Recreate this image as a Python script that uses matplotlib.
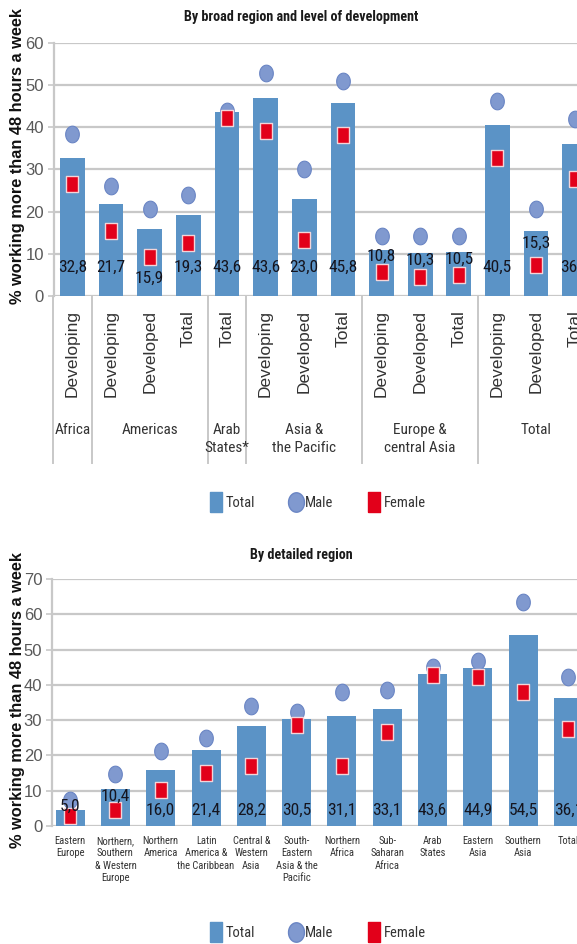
import numpy as np
import matplotlib
matplotlib.use('Agg')
import matplotlib.pyplot as plt
import matplotlib.transforms as mtransforms
from matplotlib.lines import Line2D
from matplotlib import font_manager as fm

# ---- data: broad region and level of development ----
groups = ['Africa', 'Americas', 'Arab\nStates*', 'Asia &\nthe Pacific',
          'Europe &\ncentral Asia', 'Total']
group_sizes = [1, 3, 1, 3, 3, 3]
levels = ['Developing', 'Developing', 'Developed', 'Total', 'Total',
          'Developing', 'Developed', 'Total', 'Developing', 'Developed',
          'Total', 'Developing', 'Developed', 'Total']
total_top = [32.8, 21.7, 15.9, 19.3, 43.6, 47.0, 23.0, 45.8, 10.8, 10.3,
             10.5, 40.5, 15.3, 36.1]
labels_top = ['32,8', '21,7', '15,9', '19,3', '43,6', '43,6', '23,0', '45,8',
              '10,8', '10,3', '10,5', '40,5', '15,3', '36,1']
male_top = [38.4, 26.1, 20.7, 23.9, 43.8, 52.8, 30.0, 50.9, 14.2, 14.2,
            14.2, 46.2, 20.5, 41.9]
female_top = [26.6, 15.4, 9.3, 12.5, 42.1, 39.2, 13.3, 38.2, 5.8, 4.6,
              5.0, 32.8, 7.3, 27.7]

# ---- data: detailed region ----
regions = ['Eastern\nEurope', 'Northern,\nSouthern\n& Western\nEurope',
           'Northern\nAmerica', 'Latin\nAmerica &\nthe Caribbean',
           'Central &\nWestern\nAsia', 'South-\nEastern\nAsia & the\nPacific',
           'Northern\nAfrica', 'Sub-\nSaharan\nAfrica', 'Arab\nStates',
           'Eastern\nAsia', 'Southern\nAsia', 'Total']
total_bot = [4.6, 10.4, 16.0, 21.4, 28.2, 30.2, 31.1, 33.1, 43.2, 44.9,
             54.0, 36.4]
labels_bot = ['5,0', '10,4', '16,0', '21,4', '28,2', '30,5', '31,1', '33,1',
              '43,6', '44,9', '54,5', '36,1']
male_bot = [7.4, 14.7, 21.3, 24.9, 34.1, 32.2, 37.9, 38.6, 45.0, 46.9,
            63.4, 42.1]
female_bot = [2.8, 4.6, 10.3, 14.9, 16.9, 28.6, 16.9, 26.7, 42.8, 42.1,
              37.9, 27.5]

# label heights (layout only)
label_y_top = [6.9, 6.9, 4.3, 6.9, 6.9, 6.9, 6.9, 6.9, 9.5, 8.5, 8.7, 6.9, 12.5, 6.9]
label_y_bot = [5.5, 8.3] + [4.5] * 10

# look for a condensed face; fall back to a smaller regular one
names = {f.name for f in fm.fontManager.ttflist}
NARROW, STRETCH, K = None, 'normal', 1.0
for cand in ['Liberation Sans Narrow', 'Roboto Condensed', 'Open Sans Condensed',
             'DejaVu Sans Condensed', 'Noto Sans Condensed']:
    if cand in names:
        NARROW = cand
        break
if NARROW is None:
    cond = [f for f in fm.fontManager.ttflist
            if str(f.stretch) in ('condensed', 'semi-condensed', 'extra-condensed')
            or (isinstance(f.stretch, int) and f.stretch < 500)]
    if cond:
        NARROW, STRETCH = cond[0].name, 'condensed'
        for f in cond:
            if f.name in ('DejaVu Sans', 'Roboto', 'Noto Sans', 'Open Sans'):
                NARROW = f.name
                break
    else:
        NARROW, K = 'DejaVu Sans', 0.78
SANS = 'Liberation Sans' if 'Liberation Sans' in names else 'DejaVu Sans'


def nfont(size, **kw):
    d = dict(family=NARROW, stretch=STRETCH, size=size * K)
    d.update(kw)
    return fm.FontProperties(**d)


BLUE = '#5b93c6'
MALE = '#8099cf'
MALE_EDGE = '#6a85c4'
RED = '#e2001a'
GRID = '#c8c8c8'
TICK = '#595959'

t = np.linspace(0, 2 * np.pi, 40)
ellipse = list(zip(0.82 * np.cos(t), np.sin(t)))
tall_sq = [(-0.8, -1), (0.8, -1), (0.8, 1), (-0.8, 1), (-0.8, -1)]
leg_sq = [(-0.6, -1), (0.6, -1), (0.6, 1), (-0.6, 1), (-0.6, -1)]

W, H = 577, 944
fig = plt.figure(figsize=(W / 100, H / 100), dpi=100)


def style_axes(ax, ymax):
    ax.set_ylim(0, ymax)
    ax.set_yticks(np.arange(0, ymax + 1, 10))
    ax.yaxis.grid(True, color=GRID, lw=1.6)
    ax.set_axisbelow(True)
    for s in ['top', 'right', 'bottom']:
        ax.spines[s].set_visible(False)
    ax.spines['left'].set_color(GRID)
    ax.spines['left'].set_linewidth(1.6)
    ax.tick_params(axis='y', colors=GRID, length=4, width=1.2, pad=3)
    for lab in ax.get_yticklabels():
        lab.set_color(TICK)
        lab.set_fontsize(12)
        lab.set_family(SANS)


def draw_series(ax, total, male, female, labels, label_y, fs):
    x = np.arange(len(total))
    ax.bar(x, total, width=0.64, color=BLUE, zorder=2)
    ax.plot(x, male, ls='none', marker=ellipse, ms=12, mfc=MALE,
            mec=MALE_EDGE, mew=0.8, zorder=3)
    ax.plot(x, female, ls='none', marker=tall_sq, ms=11, mfc=RED,
            mec='#f4d4d8', mew=1.0, zorder=4)
    for xi, lab, ly in zip(x, labels, label_y):
        ax.text(xi, ly, lab, ha='center', va='center', fontproperties=nfont(fs),
                color='#15151f', zorder=5)


# ---------------- top panel ----------------
ax1 = fig.add_axes([53.5 / W, 1 - 296 / H, 1 - 53.5 / W, 253.3 / H])
style_axes(ax1, 60)
draw_series(ax1, total_top, male_top, female_top, labels_top, label_y_top, 12.5)
ax1.set_xlim(-0.49, 13.06)
ax1.set_xticks(np.arange(len(levels)))
ax1.set_xticklabels(levels, rotation=90, family=SANS, fontsize=12.5, color='#333333')
ax1.tick_params(axis='x', length=0, pad=10)

trans = mtransforms.blended_transform_factory(ax1.transData, ax1.transAxes)
bounds = np.cumsum([0] + group_sizes) - 0.5
for b in bounds[:-1]:
    xb = max(b, -0.49)
    ax1.plot([xb, xb], [0, -0.66], transform=trans, clip_on=False,
             color=GRID, lw=1.4)
for g, start, n in zip(groups, bounds[:-1], group_sizes):
    ax1.text(start + n / 2, -0.503, g, transform=trans, ha='center', va='top',
             fontproperties=nfont(11), color='#333333', linespacing=1.3)

# ---------------- bottom panel ----------------
ax2 = fig.add_axes([52 / W, 1 - 826 / H, 1 - 52 / W, 247 / H])
style_axes(ax2, 70)
draw_series(ax2, total_bot, male_bot, female_bot, labels_bot, label_y_bot, 12.5)
ax2.set_xlim(-0.4, 11.19)
ax2.set_xticks(np.arange(len(regions)))
ax2.set_xticklabels(regions, fontproperties=nfont(7.6), color='#333333',
                    linespacing=1.3, va='top')
ax2.tick_params(axis='x', length=0, pad=7)

# ---------------- titles, y labels, legends ----------------
fig.text(301 / W, 1 - 17 / H, 'By broad region and level of development',
         ha='center', va='center', fontproperties=nfont(10.2, weight='bold'),
         color='#1a1a1a')
fig.text(301 / W, 1 - 555 / H, 'By detailed region', ha='center', va='center',
         fontproperties=nfont(10.2, weight='bold'), color='#1a1a1a')

ylab = '% working more than 48 hours a week'
fig.text(18 / W, 1 - 156 / H, ylab, rotation=90, ha='center', va='center',
         family=SANS, fontweight='bold', fontsize=11.8, color='#111111')
fig.text(18 / W, 1 - 700 / H, ylab, rotation=90, ha='center', va='center',
         family=SANS, fontweight='bold', fontsize=11.8, color='#111111')

handles = [
    Line2D([], [], ls='none', marker=leg_sq, ms=15, mfc=BLUE, mec=BLUE),
    Line2D([], [], ls='none', marker=ellipse, ms=14, mfc=MALE, mec=MALE_EDGE),
    Line2D([], [], ls='none', marker=leg_sq, ms=15, mfc=RED, mec=RED),
]
for yc in [503, 933]:
    fig.legend(handles, ['Total', 'Male', 'Female'], loc='center',
               bbox_to_anchor=(318 / W, 1 - yc / H), ncol=3, frameon=False,
               prop=nfont(10.5), handlelength=0.8,
               handletextpad=0.25, columnspacing=2.4, labelcolor='#333333')

fig.savefig('out.png', dpi=100)
